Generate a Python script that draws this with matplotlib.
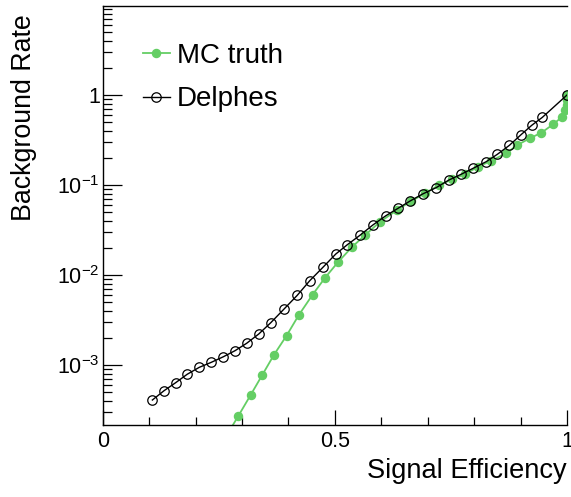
import matplotlib
matplotlib.use("Agg")
import matplotlib.pyplot as plt
import numpy as np
from matplotlib.ticker import FixedLocator, FuncFormatter, LogLocator, NullFormatter, MultipleLocator

plt.rcParams['font.family'] = ['Liberation Sans', 'DejaVu Sans']
plt.rcParams['mathtext.fontset'] = 'custom'
plt.rcParams['mathtext.rm'] = 'Liberation Sans'
plt.rcParams['mathtext.it'] = 'Liberation Sans:italic'
plt.rcParams['mathtext.bf'] = 'Liberation Sans:bold'

# Delphes: signal efficiency vs background rate
delphes_eff = [0.107, 0.132, 0.157, 0.182, 0.208, 0.234, 0.260, 0.285, 0.310, 0.336,
               0.362, 0.390, 0.419, 0.446, 0.475, 0.502, 0.527, 0.554, 0.582, 0.610,
               0.637, 0.662, 0.689, 0.718, 0.746, 0.772, 0.798, 0.826, 0.850, 0.876,
               0.901, 0.924, 0.947, 1.0]
delphes_log = [-3.389, -3.286, -3.197, -3.103, -3.026, -2.970, -2.908, -2.841, -2.759, -2.656,
               -2.530, -2.381, -2.226, -2.063, -1.911, -1.767, -1.663, -1.559, -1.444, -1.341,
               -1.256, -1.178, -1.100, -1.030, -0.944, -0.881, -0.814, -0.741, -0.659, -0.559,
               -0.441, -0.337, -0.248, 0.0]

# MC truth
mc_eff = [0.265, 0.292, 0.319, 0.344, 0.369, 0.396, 0.422, 0.452, 0.479, 0.507,
          0.537, 0.566, 0.597, 0.634, 0.664, 0.695, 0.725, 0.753, 0.780, 0.809,
          0.836, 0.869, 0.893, 0.920, 0.945, 0.970, 0.990, 0.996, 0.999, 1.0, 1.0]
mc_log = [-3.80, -3.567, -3.330, -3.108, -2.886, -2.674, -2.448, -2.219, -2.030, -1.856,
          -1.689, -1.552, -1.411, -1.278, -1.180, -1.090, -1.000, -0.937, -0.881, -0.796,
          -0.733, -0.648, -0.556, -0.481, -0.419, -0.326, -0.241, -0.167, -0.111, -0.056, 0.0]

delphes_bkg = [10 ** v for v in delphes_log]
mc_bkg = [10 ** v for v in mc_log]

fig = plt.figure(figsize=(5.71, 4.97), dpi=100)
ax = fig.add_axes([102.7 / 571, 72 / 497, (567 - 102.7) / 571, (425 - 5.5) / 497])

green = '#64ce64'
ax.plot(mc_eff, mc_bkg, color=green, lw=1.3, marker='o', ms=5.8,
        mfc=green, mec=green, label='MC truth', zorder=2)
ax.plot(delphes_eff, delphes_bkg, color='black', lw=1.0, marker='o', ms=6.8,
        mfc='none', mec='black', mew=0.9, label='Delphes', zorder=3)

ax.set_yscale('log')
ax.set_xlim(0, 1)
ax.set_ylim(10 ** (-3 - 60 / 90), 10 ** ((95 - 5.5) / 90))

ax.xaxis.set_major_locator(FixedLocator([0, 0.5, 1]))
ax.xaxis.set_minor_locator(MultipleLocator(0.1))
ax.xaxis.set_major_formatter(FuncFormatter(lambda v, p: {0: '0', 0.5: '0.5', 1: '1'}.get(round(v, 2), '')))

ax.yaxis.set_major_locator(LogLocator(base=10, numticks=20))
ax.yaxis.set_minor_locator(LogLocator(base=10, subs=np.arange(2, 10), numticks=20))
ax.yaxis.set_minor_formatter(NullFormatter())

def yfmt(v, p):
    e = int(round(np.log10(v)))
    if e == 0:
        return '1'
    return r'$10^{%d}$' % e
ax.yaxis.set_major_formatter(FuncFormatter(yfmt))

ax.tick_params(axis='both', which='both', direction='in', top=False, right=False,
               labelsize=15.5, width=0.9)
ax.tick_params(axis='y', which='major', length=13.7, pad=2)
ax.tick_params(axis='y', which='minor', length=6.5)
ax.tick_params(axis='x', which='major', length=11, pad=4)
ax.tick_params(axis='x', which='minor', length=5.7)

for s in ['left', 'bottom', 'top']:
    ax.spines[s].set_linewidth(1.0)
ax.spines['right'].set_visible(False)

ax.text(1.0, (425 - 478) / 419.5, 'Signal Efficiency', transform=ax.transAxes,
        ha='right', va='baseline', fontsize=19.6)
ax.text((11 - 102.7) / 464.3, (425 - 14) / 419.5, 'Background Rate', transform=ax.transAxes,
        ha='left', va='top', rotation=90, fontsize=19.3)

ax.legend(loc='upper left', bbox_to_anchor=((143 - 102.7) / 464.3, (425 - 43) / 419.5),
          frameon=False, fontsize=20, borderpad=0, borderaxespad=0,
          handlelength=0.97, handletextpad=0.25, labelspacing=0.62)

fig.savefig('out.png', dpi=100)
